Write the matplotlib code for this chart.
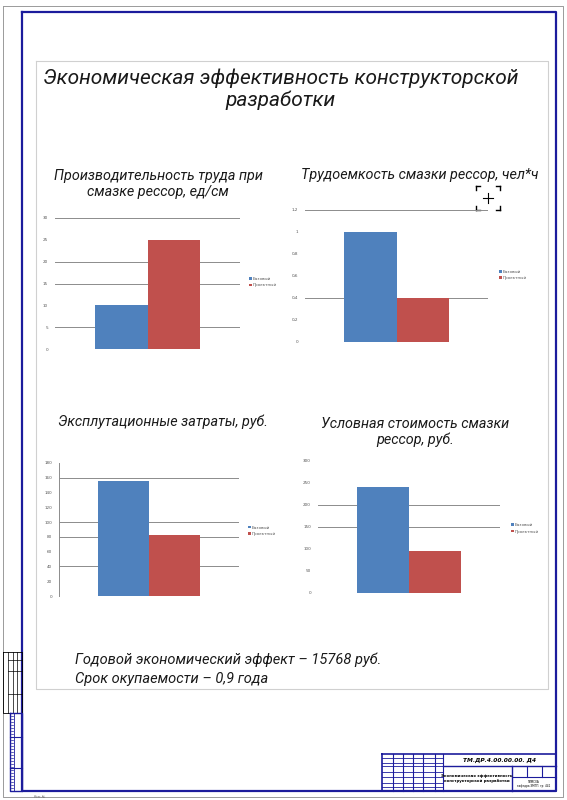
import matplotlib
matplotlib.use("Agg")
import matplotlib.pyplot as plt
from matplotlib.lines import Line2D

# ---------------- data ----------------
main_title = "Экономическая эффективность конструкторской\nразработки"
series_names = ["Базовый", "Проектный"]

titles = ["Производительность труда при\nсмазке рессор, ед/см",
          "Трудоемкость смазки рессор, чел*ч",
          "Эксплутационные затраты, руб.",
          "Условная стоимость смазки\nрессор, руб."]

values_productivity = [10, 25]
values_labour = [1.0, 0.4]
values_operating = [155, 83]
values_cost = [242, 95]

ticks_productivity = [0, 5, 10, 15, 20, 25, 30]
ticks_labour = [0, 0.2, 0.4, 0.6, 0.8, 1, 1.2]
ticks_operating = [0, 20, 40, 60, 80, 100, 120, 140, 160, 180]
ticks_cost = [0, 50, 100, 150, 200, 250, 300]

# gridlines that are visible in the picture
grid_productivity = [5, 15, 20, 30]
grid_labour = [0, 0.4, 1.2]
grid_operating = [40, 80, 100, 160]
grid_cost = [150, 200]

bottom_lines = ["Годовой экономический эффект – 15768 руб.",
                "Срок окупаемости – 0,9 года"]

colors = ["#4f81bd", "#c0504d"]
FRAME = "#1c1c9c"

FONT = dict(family=["Roboto", "DejaVu Sans"], style="italic", weight="normal",
            color="#1a1a1a")

W, H = 567, 800
fig = plt.figure(figsize=(W / 100, H / 100), dpi=100)
fig.patch.set_facecolor("white")

# overlay in pixel coordinates for the drawing sheet
ov = fig.add_axes([0, 0, 1, 1], zorder=0)
ov.set_xlim(0, W)
ov.set_ylim(H, 0)
ov.axis("off")


def line(x, y, c="black", lw=0.6):
    ov.add_line(Line2D(x, y, color=c, lw=lw))


def rect(x0, y0, x1, y1, c="black", lw=0.6):
    line([x0, x1, x1, x0, x0], [y0, y0, y1, y1, y0], c, lw)


# outer thin frame and blue frame
rect(3, 6, 563, 797, "#9a9a9a", 0.7)
rect(21.5, 12, 556, 791, FRAME, 1.6)
# inner content box
rect(36, 61, 548, 689, "#d0d0d0", 0.8)

# left strip
rect(3, 652, 21.5, 713, "black", 0.6)
for xx in [8, 12.5, 17]:
    line([xx, xx], [652, 713], "black", 0.5)
for yy in [660, 671, 694]:
    line([8, 21.5], [yy, yy], "black", 0.5)
rect(10, 713, 21.5, 791, FRAME, 1.0)
line([14, 14], [713, 791], FRAME, 0.6)
for yy in [737, 768]:
    line([10, 21.5], [yy, yy], FRAME, 0.8)
for yy in range(716, 790, 3):
    line([11, 13], [yy, yy], FRAME, 0.5)
ov.text(40, 797, "Ком.№", fontsize=2.5, ha="center", va="center",
        family=["DejaVu Sans"], color="#777777")

# title block
tb_x0, tb_y0, tb_x1, tb_y1 = 382, 754, 556, 791
rect(tb_x0, tb_y0, tb_x1, tb_y1, FRAME, 1.2)
for xx in [393, 403, 413, 423, 435, 443]:
    line([xx, xx], [tb_y0, tb_y1], FRAME, 0.8)
for yy in [758, 763, 766, 772, 777, 783, 787]:
    line([tb_x0, 443], [yy, yy], FRAME, 0.6)
line([443, tb_x1], [766, 766], FRAME, 1.0)
line([512, 512], [766, tb_y1], FRAME, 1.0)
line([512, tb_x1], [777, 777], FRAME, 0.8)
for xx in [527, 542]:
    line([xx, xx], [766, 777], FRAME, 0.8)
ov.text(500, 760.5, "ТМ.ДР.4.00.00.00. Д4", ha="center", va="center",
        fontsize=4.2, weight="bold", style="italic", family=["DejaVu Sans"],
        color="black")
ov.text(477, 778.5, "Экономическая эффективность\nконструкторской разработки",
        ha="center", va="center", fontsize=2.8, weight="bold", linespacing=1.6,
        family=["DejaVu Sans"], color="black")
ov.text(534, 784, "ТИМСХА\nкафедра ЭМТП, гр. 441", ha="center", va="center",
        fontsize=2.0, family=["DejaVu Sans"], color="black", linespacing=1.3)

# main title
ov.text(281, 89.5, main_title, ha="center", va="center", fontsize=15,
        linespacing=1.15, **FONT)

# bottom texts
ov.text(75, 660, bottom_lines[0], ha="left", va="center", fontsize=10.5, **FONT)
ov.text(75, 679, bottom_lines[1], ha="left", va="center", fontsize=10.5, **FONT)

# cursor artefact in chart 2
cx, cy = 488, 198
ov.plot([cx - 5, cx + 5], [cy, cy], color="black", lw=0.8)
ov.plot([cx, cx], [cy - 5, cy + 5], color="black", lw=0.8)
for sx in (-1, 1):
    for sy in (-1, 1):
        ox, oy = cx + sx * 12, cy + sy * 12
        ov.plot([ox, ox - sx * 4], [oy, oy], color="black", lw=1.0)
        ov.plot([ox, ox], [oy, oy - sy * 4], color="black", lw=1.0)

# chart panels (pixel geometry)
panels = [
    dict(box=(55, 217.7, 240, 349.3), vals=values_productivity, ticks=ticks_productivity,
         grid=grid_productivity, title=titles[0], tpos=(158, 184), spine=False,
         leg=(1.03, 0.51)),
    dict(box=(305, 209.7, 488, 341.7), vals=values_labour, ticks=ticks_labour,
         grid=grid_labour, title=titles[1], tpos=(420, 175), spine=False,
         leg=(1.04, 0.505)),
    dict(box=(59, 463, 239, 596), vals=values_operating, ticks=ticks_operating,
         grid=grid_operating, title=titles[2], tpos=(163, 422), spine=True,
         leg=(1.03, 0.49)),
    dict(box=(318, 461, 500, 593), vals=values_cost, ticks=ticks_cost,
         grid=grid_cost, title=titles[3], tpos=(415, 432), spine=False,
         leg=(1.04, 0.49)),
]

bw = 0.285
for p in panels:
    x0, y0, x1, y1 = p["box"]
    ax = fig.add_axes([x0 / W, 1 - y1 / H, (x1 - x0) / W, (y1 - y0) / H], zorder=2)
    ax.set_facecolor("none")
    ax.set_xlim(-0.5, 0.5)
    ax.set_ylim(p["ticks"][0], p["ticks"][-1])
    for g in p["grid"]:
        ax.axhline(g, color="#8c8c8c", lw=0.7, zorder=1)
    for i, (v, c, name) in enumerate(zip(p["vals"], colors, series_names)):
        ax.bar((i - 0.5) * bw, v, width=bw, color=c, zorder=2, label=name)
    ax.set_yticks(p["ticks"])
    ax.set_yticklabels(["{:g}".format(t).replace(".", ",") for t in p["ticks"]])
    ax.tick_params(axis="y", length=0, pad=5, labelsize=3, labelcolor="#555555")
    ax.set_xticks([])
    for s in ax.spines.values():
        s.set_visible(False)
    if p["spine"]:
        ax.spines["left"].set_visible(True)
        ax.spines["left"].set_color("#8c8c8c")
        ax.spines["left"].set_linewidth(0.7)
    ax.legend(loc="center left", bbox_to_anchor=p["leg"], frameon=False,
              fontsize=3, handlelength=0.6, handleheight=0.6, handletextpad=0.3,
              labelspacing=0.6, labelcolor="#555555")
    ov.text(p["tpos"][0], p["tpos"][1], p["title"], ha="center", va="center",
            fontsize=10.4, linespacing=1.2, **FONT)

fig.savefig("out.png", dpi=100, facecolor="white")
